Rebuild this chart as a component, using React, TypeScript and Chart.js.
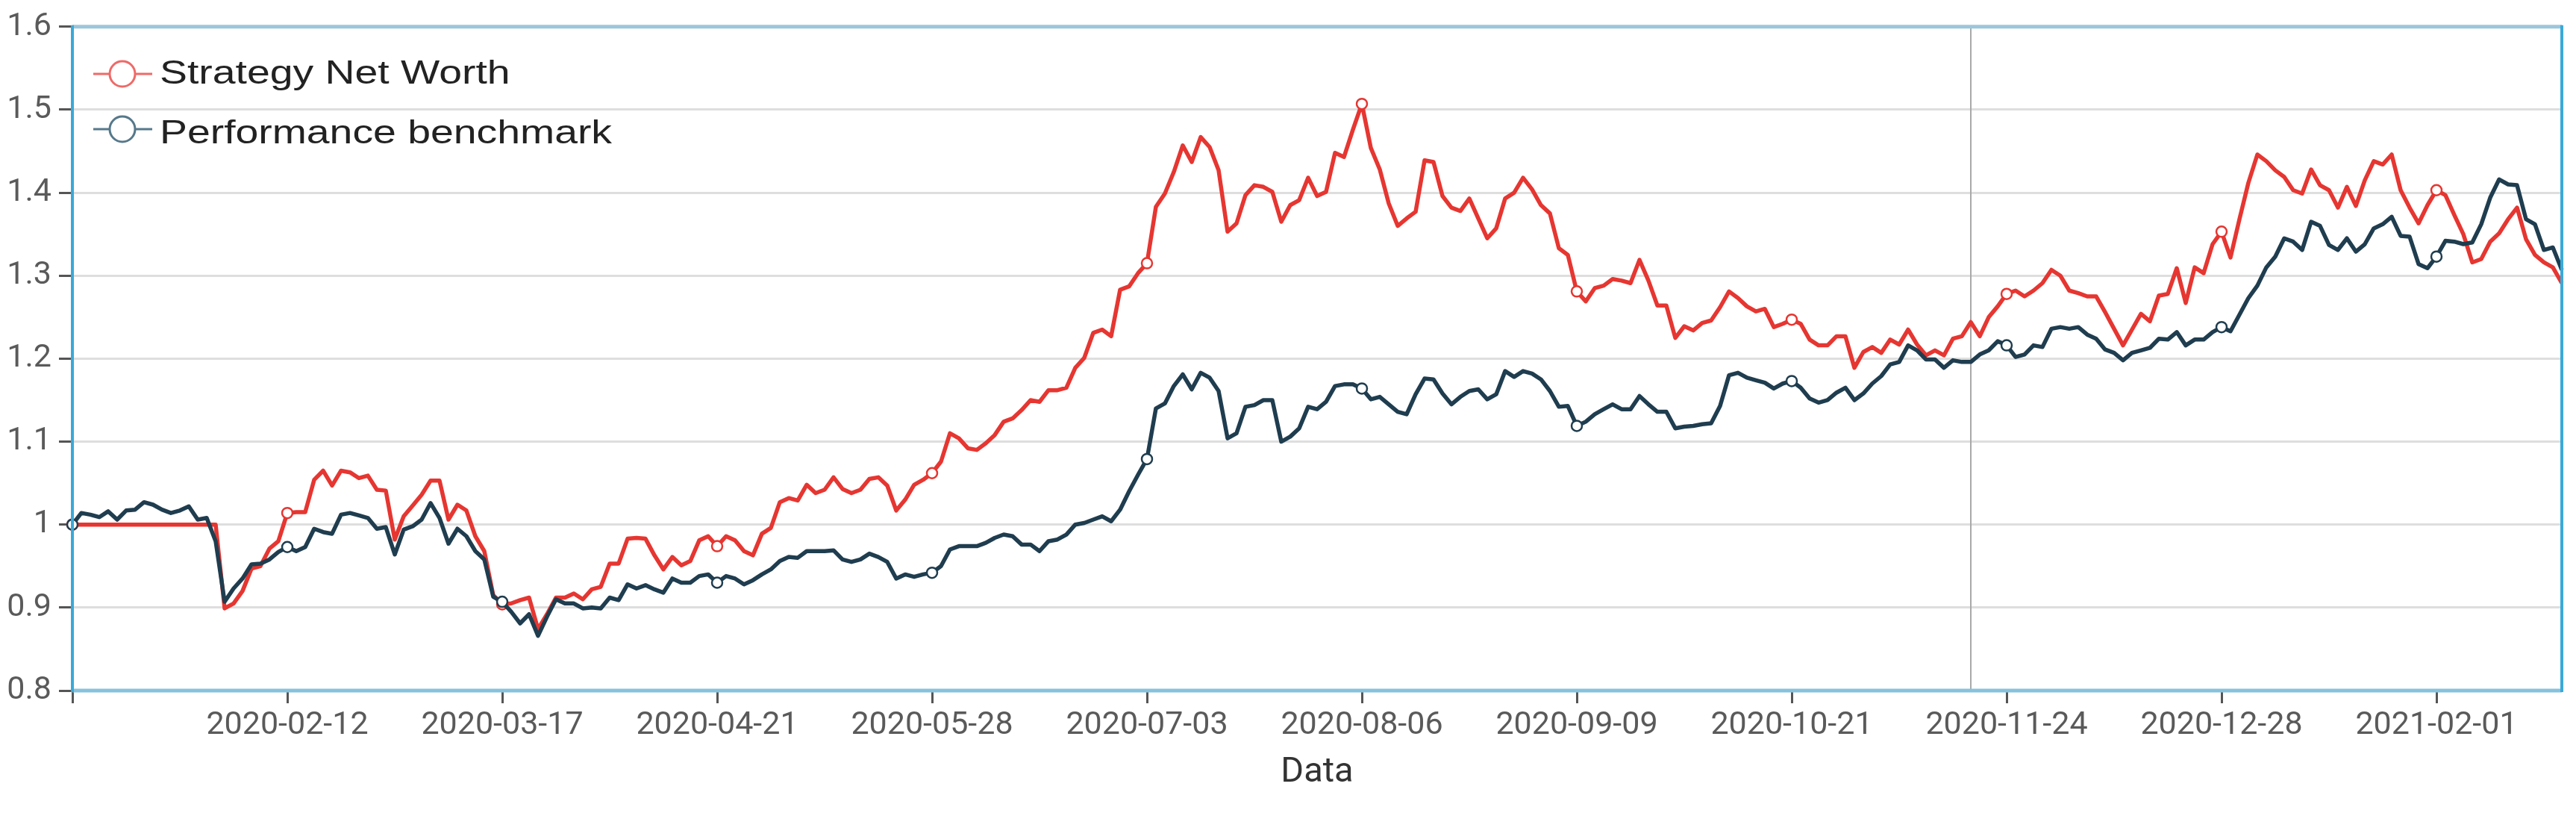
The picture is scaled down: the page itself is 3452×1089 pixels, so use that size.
import React, { useEffect, useRef } from "react";
import { Chart, registerables } from "chart.js";

Chart.register(...registerables);

// ---- Categories: Chinese A-share trading days 2019-12-31 .. 2021-02-26 ----
const FIRST_DAY = "2019-12-31";
const LAST_DAY = "2021-02-26";
const MARKET_HOLIDAYS = [
  "2020-01-01", "2020-01-24", "2020-01-27", "2020-01-28", "2020-01-29", "2020-01-30", "2020-01-31",
  "2020-04-06", "2020-05-01", "2020-05-04", "2020-05-05", "2020-06-25", "2020-06-26",
  "2020-10-01", "2020-10-02", "2020-10-05", "2020-10-06", "2020-10-07", "2020-10-08",
  "2021-01-01", "2021-02-11", "2021-02-12", "2021-02-15", "2021-02-16", "2021-02-17",
];

function buildTradingDays(): string[] {
  const out: string[] = [];
  const d = new Date(FIRST_DAY + "T00:00:00Z");
  const end = new Date(LAST_DAY + "T00:00:00Z").getTime();
  while (d.getTime() <= end) {
    const s = d.toISOString().slice(0, 10);
    const wd = d.getUTCDay();
    if (wd !== 0 && wd !== 6 && !MARKET_HOLIDAYS.includes(s)) out.push(s);
    d.setUTCDate(d.getUTCDate() + 1);
  }
  return out;
}
const dates = buildTradingDays();

// ---- Series ----
const strategyNetWorth = [
  1.0, 1.0, 1.0, 1.0, 1.0, 1.0, 1.0, 1.0, 1.0, 1.0, 1.0, 1.0, 1.0, 1.0, 1.0, 1.0, 1.0,
  0.899, 0.905, 0.92, 0.947, 0.95, 0.971, 0.98, 1.014, 1.015, 1.015, 1.054, 1.065, 1.047, 1.065,
  1.063, 1.056, 1.059, 1.042, 1.041, 0.982, 1.01, 1.023, 1.036, 1.053, 1.053, 1.006, 1.024, 1.017,
  0.986, 0.968, 0.915, 0.904, 0.905, 0.909, 0.912, 0.874, 0.892, 0.912, 0.912, 0.917, 0.91, 0.922,
  0.925, 0.953, 0.953, 0.983, 0.984, 0.983, 0.963, 0.946, 0.961, 0.951, 0.956, 0.981, 0.986, 0.974,
  0.986, 0.981, 0.968, 0.963, 0.989, 0.996, 1.027, 1.032, 1.029, 1.048, 1.038, 1.042, 1.057, 1.043,
  1.038, 1.042, 1.055, 1.057, 1.047, 1.017, 1.03, 1.048, 1.054, 1.062, 1.076, 1.11, 1.104, 1.092,
  1.09, 1.098, 1.108, 1.124, 1.128, 1.138, 1.15, 1.148, 1.162, 1.162, 1.165, 1.189, 1.201, 1.231,
  1.235, 1.227, 1.283, 1.287, 1.303, 1.315, 1.383, 1.399, 1.425, 1.457, 1.437, 1.467, 1.455, 1.427,
  1.353, 1.363, 1.397, 1.409, 1.407, 1.401, 1.365, 1.385, 1.391, 1.418, 1.396, 1.401, 1.448, 1.443,
  1.476, 1.507, 1.454, 1.428, 1.387, 1.36, 1.369, 1.377, 1.439, 1.437, 1.396, 1.382, 1.378, 1.393,
  1.369, 1.345, 1.357, 1.393, 1.4, 1.418, 1.404, 1.385, 1.375, 1.333, 1.325, 1.281, 1.269, 1.285,
  1.288, 1.296, 1.294, 1.291, 1.319, 1.294, 1.264, 1.264, 1.225, 1.239, 1.234, 1.243, 1.246, 1.262,
  1.281, 1.273, 1.263, 1.257, 1.26, 1.238, 1.242, 1.247, 1.242, 1.223, 1.216, 1.216, 1.227, 1.227,
  1.189, 1.208, 1.214, 1.207, 1.223, 1.217, 1.235, 1.217, 1.204, 1.21, 1.204, 1.224, 1.227, 1.244,
  1.227, 1.25, 1.263, 1.278, 1.282, 1.275, 1.282, 1.291, 1.307, 1.3, 1.282, 1.279, 1.275, 1.275,
  1.256, 1.236, 1.216, 1.235, 1.254, 1.245, 1.276, 1.278, 1.309, 1.267, 1.31, 1.303, 1.338, 1.353,
  1.322, 1.368, 1.412, 1.446, 1.438, 1.427, 1.419, 1.403, 1.399, 1.428, 1.409, 1.403, 1.382, 1.407,
  1.384, 1.415, 1.438, 1.434, 1.446, 1.403, 1.382, 1.363, 1.385, 1.403, 1.397, 1.373, 1.35, 1.316,
  1.32, 1.341, 1.351, 1.368, 1.382, 1.344, 1.325, 1.316, 1.31, 1.291,
];

const performanceBenchmark = [
  1.0, 1.014, 1.012, 1.009, 1.016, 1.006, 1.017, 1.018, 1.027, 1.024, 1.018, 1.014, 1.017, 1.022,
  1.006, 1.008, 0.98, 0.907, 0.923, 0.935, 0.952, 0.953, 0.958, 0.967, 0.973, 0.968, 0.973, 0.995,
  0.991, 0.989, 1.012, 1.014, 1.011, 1.008, 0.995, 0.997, 0.964, 0.994, 0.998, 1.006, 1.026, 1.008,
  0.977, 0.995, 0.986, 0.968, 0.958, 0.913, 0.907, 0.895, 0.881, 0.892, 0.866, 0.889, 0.91, 0.905,
  0.905, 0.899, 0.9, 0.899, 0.912, 0.909, 0.928, 0.923, 0.927, 0.922, 0.918, 0.935, 0.93, 0.93,
  0.938, 0.94, 0.93, 0.938, 0.935, 0.928, 0.933, 0.94, 0.946, 0.956, 0.961, 0.96, 0.968, 0.968,
  0.968, 0.969, 0.958, 0.955, 0.958, 0.965, 0.961, 0.955, 0.935, 0.94, 0.937, 0.94, 0.942, 0.95,
  0.97, 0.974, 0.974, 0.974, 0.978, 0.984, 0.988, 0.986, 0.976, 0.976, 0.968, 0.98, 0.982, 0.988,
  1.0, 1.002, 1.006, 1.01, 1.004, 1.018, 1.04, 1.06, 1.079, 1.14, 1.146, 1.167, 1.181, 1.163,
  1.183, 1.177, 1.161, 1.104, 1.11, 1.142, 1.144, 1.15, 1.15, 1.1, 1.106, 1.116, 1.142, 1.139,
  1.148, 1.167, 1.169, 1.169, 1.164, 1.151, 1.154, 1.145, 1.136, 1.133, 1.157, 1.176, 1.175, 1.158,
  1.145, 1.154, 1.161, 1.163, 1.151, 1.157, 1.185, 1.178, 1.185, 1.182, 1.175, 1.161, 1.142, 1.143,
  1.119, 1.124, 1.133, 1.139, 1.145, 1.139, 1.139, 1.155, 1.145, 1.136, 1.136, 1.116, 1.118, 1.119,
  1.121, 1.122, 1.143, 1.18, 1.183, 1.177, 1.174, 1.171, 1.164, 1.17, 1.173, 1.165, 1.152, 1.147,
  1.15, 1.159, 1.165, 1.15, 1.158, 1.17, 1.179, 1.193, 1.196, 1.216, 1.21, 1.199, 1.199, 1.189,
  1.198, 1.196, 1.196, 1.205, 1.21, 1.221, 1.216, 1.202, 1.205, 1.216, 1.214, 1.236, 1.238, 1.236,
  1.238, 1.229, 1.224, 1.211, 1.207, 1.198, 1.207, 1.21, 1.213, 1.224, 1.223, 1.232, 1.216, 1.223,
  1.223, 1.232, 1.238, 1.233, 1.253, 1.273, 1.288, 1.31, 1.323, 1.345, 1.341, 1.331, 1.365, 1.36,
  1.337, 1.331, 1.345, 1.329, 1.338, 1.357, 1.362, 1.371, 1.348, 1.347, 1.314, 1.309, 1.323, 1.342,
  1.341, 1.338, 1.34, 1.362, 1.394, 1.416, 1.41, 1.409, 1.368, 1.362, 1.331, 1.334, 1.307,
];

const seriesNames = ["Strategy Net Worth", "Performance benchmark"];
const yTickValues = [0.8, 0.9, 1.0, 1.1, 1.2, 1.3, 1.4, 1.5, 1.6];
const xAxisTitle = "Data";
const LABEL_EVERY = 24;
const CROSSHAIR_INDEX = 212;

const RED = "#e63631";
const DARK = "#1f3d4f";

const overlayPlugin = {
  id: "overlay",
  beforeDatasetsDraw(chart: any) {
    const { ctx, chartArea: a, scales } = chart;
    const x = scales.x.getPixelForValue(CROSSHAIR_INDEX);
    ctx.save();
    ctx.strokeStyle = "#a9a9a9";
    ctx.lineWidth = 2;
    ctx.beginPath();
    ctx.moveTo(x, a.top);
    ctx.lineTo(x, a.bottom);
    ctx.stroke();
    ctx.restore();
  },
  afterDatasetsDraw(chart: any) {
    const { ctx, chartArea: a } = chart;
    ctx.save();
    ctx.lineCap = "butt";
    ctx.strokeStyle = "#9cc6da";
    ctx.lineWidth = 5;
    ctx.beginPath();
    ctx.moveTo(a.left, a.top);
    ctx.lineTo(a.right, a.top);
    ctx.stroke();
    ctx.strokeStyle = "#86c2de";
    ctx.beginPath();
    ctx.moveTo(a.left, a.bottom);
    ctx.lineTo(a.right, a.bottom);
    ctx.stroke();
    ctx.strokeStyle = "#3aa9d8";
    ctx.lineWidth = 4;
    ctx.beginPath();
    ctx.moveTo(a.left, a.top - 2);
    ctx.lineTo(a.left, a.bottom + 2);
    ctx.moveTo(a.right, a.top - 2);
    ctx.lineTo(a.right, a.bottom + 2);
    ctx.stroke();
    ctx.restore();
  },
  afterDraw(chart: any) {
    const { ctx } = chart;
    const items = [
      { label: chart.data.datasets[0].label, color: "#ee6a68", cy: 99, base: 112 },
      { label: chart.data.datasets[1].label, color: "#56788b", cy: 173, base: 192 },
    ];
    ctx.save();
    for (const it of items) {
      ctx.strokeStyle = it.color;
      ctx.lineWidth = 3;
      ctx.beginPath();
      ctx.moveTo(125, it.cy);
      ctx.lineTo(204, it.cy);
      ctx.stroke();
      ctx.beginPath();
      ctx.arc(164, it.cy, 17, 0, Math.PI * 2);
      ctx.fillStyle = "#ffffff";
      ctx.fill();
      ctx.stroke();
      ctx.save();
      ctx.translate(214, it.base);
      ctx.scale(1.23, 1);
      ctx.font = '45px "Liberation Sans", Arial, sans-serif';
      ctx.fillStyle = "#222222";
      ctx.textBaseline = "alphabetic";
      ctx.textAlign = "left";
      ctx.fillText(it.label, 0, 0);
      ctx.restore();
    }
    ctx.restore();
  },
};

export default function App() {
  const ref = useRef<HTMLCanvasElement | null>(null);

  useEffect(() => {
    document.body.style.margin = "0";
    const canvas = ref.current;
    if (!canvas) return;
    const markerRadius = (c: any) => (c.dataIndex % LABEL_EVERY === 0 ? 7 : 0);
    const chart = new Chart(canvas, {
      type: "line",
      data: {
        labels: dates,
        datasets: [
          {
            label: seriesNames[0],
            data: strategyNetWorth,
            borderColor: RED,
            borderWidth: 5.5,
            pointRadius: markerRadius,
            pointHoverRadius: 0,
            pointBackgroundColor: "#ffffff",
            pointBorderColor: RED,
            pointBorderWidth: 2.5,
            tension: 0,
            borderJoinStyle: "round",
            order: 1,
          },
          {
            label: seriesNames[1],
            data: performanceBenchmark,
            borderColor: DARK,
            borderWidth: 5.5,
            pointRadius: markerRadius,
            pointHoverRadius: 0,
            pointBackgroundColor: "#ffffff",
            pointBorderColor: DARK,
            pointBorderWidth: 2.5,
            tension: 0,
            borderJoinStyle: "round",
            order: 0,
          },
        ],
      },
      options: {
        animation: false,
        responsive: false,
        maintainAspectRatio: false,
        devicePixelRatio: 1,
        layout: { padding: { top: 31, right: 19, bottom: 0, left: 0 } },
        plugins: {
          legend: { display: false },
          tooltip: { enabled: false },
        },
        scales: {
          x: {
            type: "category",
            offset: false,
            afterFit: (s: any) => {
              s.height = 164;
            },
            afterBuildTicks: (axis: any) => {
              axis.ticks = axis.ticks.filter((t: any) => t.value % LABEL_EVERY === 0);
            },
            ticks: {
              autoSkip: false,
              maxRotation: 0,
              minRotation: 0,
              padding: 4,
              color: "#5a5a5a",
              font: { family: "Roboto", size: 43 },
              callback: (v: any) => (Number(v) === 0 ? "" : dates[Number(v)]),
            },
            grid: {
              display: true,
              drawOnChartArea: false,
              drawTicks: true,
              tickLength: 17,
              tickColor: "#555555",
              tickWidth: 3,
            },
            border: { display: false },
            title: {
              display: true,
              text: xAxisTitle,
              color: "#333333",
              font: { family: "Roboto", size: 47 },
              padding: { top: 0, bottom: 26 },
            },
          },
          y: {
            min: yTickValues[0],
            max: yTickValues[yTickValues.length - 1],
            afterFit: (s: any) => {
              s.width = 97;
            },
            afterBuildTicks: (axis: any) => {
              axis.ticks = yTickValues.map((v) => ({ value: v }));
            },
            ticks: {
              padding: 10,
              color: "#5a5a5a",
              font: { family: "Roboto", size: 43 },
              callback: (v: any) => String(Number(Number(v).toFixed(2))),
            },
            grid: {
              color: "#dedede",
              lineWidth: 3,
              tickLength: 18,
              tickColor: "#555555",
              tickWidth: 3,
            },
            border: { display: false },
          },
        },
      },
      plugins: [overlayPlugin],
    } as any);
    return () => chart.destroy();
  }, []);

  return (
    <div style={{ position: "absolute", left: 0, top: 0, width: 3452, height: 1089 }}>
      <canvas ref={ref} width={3452} height={1089} style={{ display: "block" }} />
    </div>
  );
}
